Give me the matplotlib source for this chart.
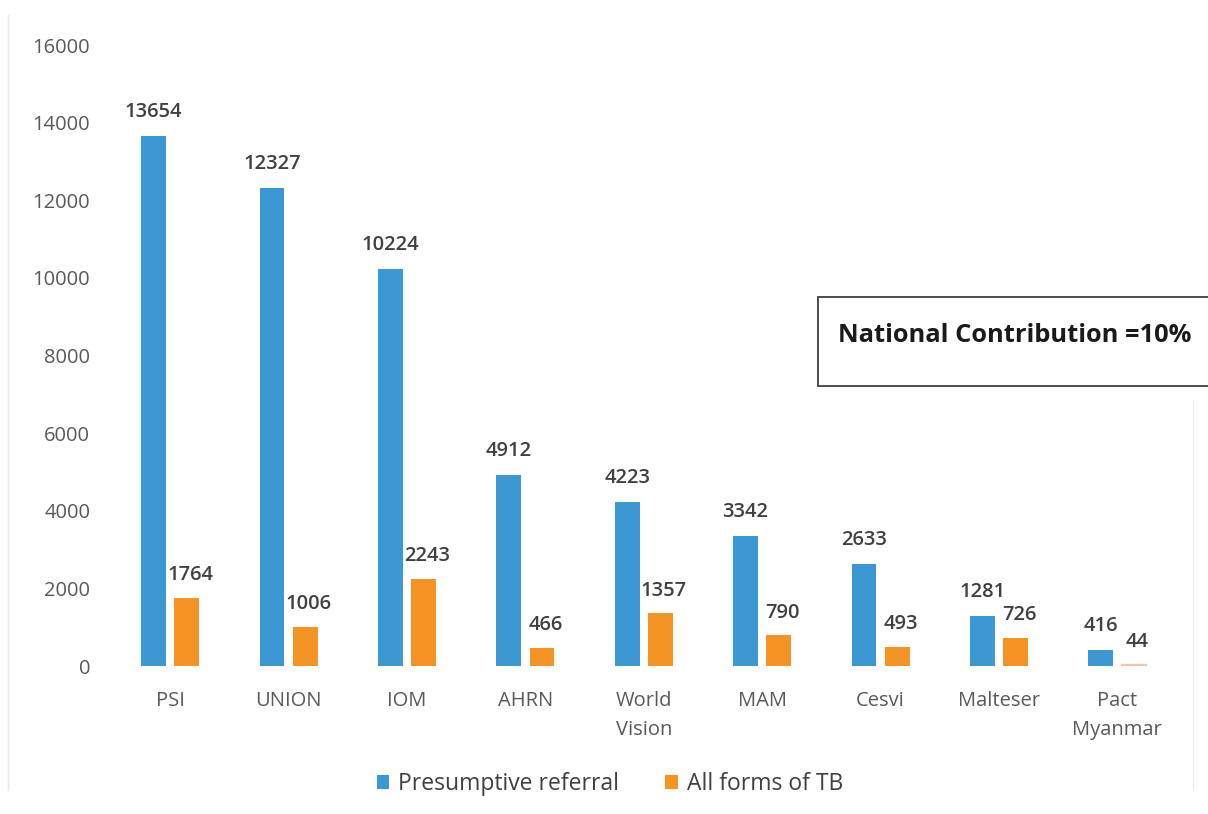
import matplotlib
matplotlib.use("Agg")
import matplotlib.pyplot as plt
from matplotlib.patches import Rectangle
from matplotlib.lines import Line2D
import numpy as np

categories = ["PSI", "UNION", "IOM", "AHRN", "World\nVision", "MAM", "Cesvi", "Malteser", "Pact\nMyanmar"]
presumptive = [13654, 12327, 10224, 4912, 4223, 3342, 2633, 1281, 416]
all_tb = [1764, 1006, 2243, 466, 1357, 790, 493, 726, 44]
series_names = ["Presumptive referral", "All forms of TB"]
y_ticks = [0, 2000, 4000, 6000, 8000, 10000, 12000, 14000, 16000]

blue = "#3d97d3"
orange = "#f39424"
plt.rcParams['font.family'] = ['Open Sans', 'DejaVu Sans']

fig = plt.figure(figsize=(12.08, 8.14), dpi=100)
ax = fig.add_axes([0.0919, 0.1818, 0.882, 0.7629])

x = np.arange(len(categories))
w = 0.21
gap = 0.035
b1 = ax.bar(x - w/2 - gap, presumptive, w, color=blue, label=series_names[0])
b2 = ax.bar(x + w/2 + gap, all_tb, w, color=orange, label=series_names[1])
b2[-1].set_color("#f6c4a8")

for rect, v in zip(b1, presumptive):
    ax.annotate(str(v), (rect.get_x() + rect.get_width()/2, v), xytext=(0, 10),
                textcoords="offset points", ha="center", va="bottom",
                fontsize=14.5, fontweight="semibold", color="#404040")
for rect, v in zip(b2, all_tb):
    ax.annotate(str(v), (rect.get_x() + rect.get_width()/2 + 0.03, v), xytext=(0, 9),
                textcoords="offset points", ha="center", va="bottom",
                fontsize=14.5, fontweight="semibold", color="#404040")

ax.set_xlim(-0.5, len(categories) - 0.5)
ax.set_ylim(0, 16000)
ax.set_yticks(y_ticks)
ax.set_yticklabels([str(t) for t in y_ticks])
ax.set_xticks(x)
ax.set_xticklabels(categories, linespacing=1.6)
ax.tick_params(axis="both", length=0, labelsize=14.5, labelcolor="#595959")
ax.tick_params(axis="y", pad=15)
ax.tick_params(axis="x", pad=18)
for s in ax.spines.values():
    s.set_visible(False)

leg = fig.legend(handles=[b1, b2], labels=series_names, loc="center",
                 bbox_to_anchor=(0.505, 0.037), ncol=2, frameon=False,
                 fontsize=16.5, handlelength=0.55, handleheight=0.55,
                 handletextpad=0.4, columnspacing=2.0)
for t in leg.get_texts():
    t.set_color("#404040")

# annotation box (extends past right edge as in the reference)
fig.patches.append(Rectangle((818/1208, 1 - 386/814), 400/1208, 89/814,
                             transform=fig.transFigure, facecolor="white",
                             edgecolor="#404040", linewidth=1.3, zorder=5))
fig.text(838/1208, 1 - 336/814, "National Contribution =10%", fontsize=18.3,
         fontweight="bold", color="#1a1a1a", ha="left", va="center", zorder=6)

# faint frame lines of the original slide
fig.add_artist(Line2D([8/1208, 8/1208], [1 - 790/814, 1 - 15/814],
                      transform=fig.transFigure, color="#e8e8e8", lw=1))
fig.add_artist(Line2D([1193/1208, 1193/1208], [1 - 790/814, 1 - 400/814],
                      transform=fig.transFigure, color="#ececec", lw=1))

fig.savefig("out.png", dpi=100)
